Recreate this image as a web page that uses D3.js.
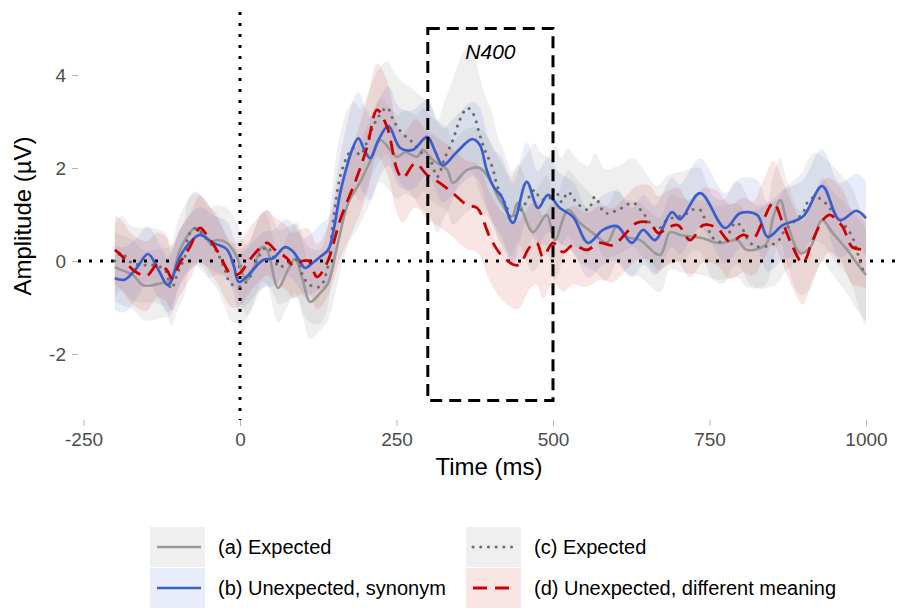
<!DOCTYPE html>
<html lang="en">
<head>
    <meta charset="UTF-8">
    <title>ERP amplitude</title>
    <script src="https://d3js.org/d3.v7.min.js"></script>
    <style>
        body { margin: 0; background: #fff; }
        svg { font-family: "Liberation Sans", Arial, sans-serif; }
        .tick text { fill: #4d4d4d; font-size: 19px; }
        .tick line { stroke: #b3b3b3; }
    </style>
</head>
<body>
<div id="chart"></div>
<script>
    // (a) Expected, solid grey
    const aTime = [-200,-190,-171,-155,-139,-123,-112,-96,-72,-59, -48,-37,-21,-5,5,11,21,35,43,61,
                   75,88,100,112,128,141,155,173,192,211, 224,240,251,264,283,292,308,331,340,363,
                   383,399,415,434,444,468,490,503,524,543, 564,586,602,618,639,671,687,703,724,740,
                   756,772,794,809,831,842,852,863,874,895, 911,930,947,970,985,1000];
    const aAmp = [-0.13,-0.19,-0.3,-0.52,-0.52,-0.47,-0.45,0.24,0.71,0.6, 0.39,0.45,0.39,0.09,-0.3,-0.41,-0.19,0.3,0.24,-0.58,
                  -0.24,0.05,-0.4,-0.88,-0.69,-0.47,0.3,1.25,1.7,2.24, 2.6,2.39,2.24,2.34,2.24,2.39,2.17,1.96,1.68,1.96,
                  2.0,1.74,1.31,0.95,1.25,0.62,0.99,0.45,1.1,0.82, 0.6,0.39,0.75,0.52,0.45,0.13,0.62,0.56,0.52,0.49,
                  0.41,0.39,0.45,0.24,0.28,0.39,0.95,1.31,0.82,0.17, 0.3,0.88,0.6,0.24,-0.04,-0.3];
    const aSe = [0.75,0.75,0.75,0.75,0.75,0.75,0.75,0.75,0.75,0.75, 0.75,0.75,0.75,0.75,0.75,0.75,0.75,0.75,0.75,0.75,
                 0.75,0.75,0.8,0.8,0.8,0.8,0.85,0.9,0.9,0.9, 0.9,0.9,0.9,0.9,0.9,0.9,0.9,0.9,0.9,0.9,
                 0.85,0.85,0.85,0.85,0.85,0.85,0.85,0.85,0.85,0.85, 0.8,0.8,0.8,0.8,0.8,0.8,0.8,0.8,0.8,0.8,
                 0.8,0.8,0.8,0.8,0.85,0.85,0.9,0.9,0.9,0.9, 0.9,0.9,0.9,0.95,1.0,1.0];

    // (b) Unexpected, synonym, solid blue
    const bTime = [-200,-184,-165,-147,-130,-115,-96,-80,-64,-43, -21,-10,-2,10,20,37,53,72,85,96,
                   104,115,128,141,150,160,170,179,189,200, 208,221,237,256,276,299,312,324,346,371,
                   383,394,405,418,436,458,476,492,511,532, 556,580,602,626,644,663,690,703,735,775,
                   799,826,843,867,899,930,958,985,1000];
    const bAmp = [-0.37,-0.4,-0.15,0.15,-0.2,-0.52,0.09,0.4,0.56,0.39, 0.25,-0.1,-0.45,-0.35,-0.2,0.02,0.06,0.3,0.2,-0.02,
                  -0.15,-0.05,0.09,0.24,0.7,1.46,2.0,2.39,2.64,2.35, 2.21,2.6,2.9,2.43,2.39,2.67,2.35,2.06,2.34,2.62,
                  2.5,1.96,1.6,1.38,0.82,1.7,1.14,1.42,1.14,0.95, 0.39,0.67,0.75,0.39,0.67,0.45,1.05,0.9,1.46,0.71,
                  1.03,0.99,0.52,0.77,0.95,1.61,0.88,1.08,0.92];
    const bSe = [0.7,0.7,0.65,0.6,0.6,0.6,0.6,0.6,0.6,0.6, 0.6,0.6,0.6,0.6,0.6,0.6,0.6,0.6,0.6,0.6,
                 0.65,0.65,0.7,0.7,0.75,0.8,0.9,1.0,1.0,0.95, 0.9,0.85,0.85,0.85,0.85,0.8,0.8,0.8,0.8,0.8,
                 0.8,0.8,0.8,0.85,0.85,0.85,0.8,0.8,0.75,0.75, 0.75,0.75,0.75,0.75,0.75,0.75,0.75,0.75,0.75,0.75,
                 0.75,0.75,0.75,0.75,0.8,0.8,0.8,0.8,0.8];

    // (c) Expected, dotted grey
    const cTime = [-200,-190,-173,-155,-139,-120,-110,-98,-88,-83, -72,-48,-37,-24,-16,0,16,27,43,56,
                   61,72,91,101,112,128,139,149,160,171, 181,192,208,221,235,245,259,275,291,304,
                   315,327,340,351,363,372,383,391,403,412, 426,434,452,471,479,492,503,514,524,538,
                   556,567,583,604,628,644,666,682,698,710, 722,735,745,756,772,791,799,815,831,858,
                   871,899,906,919,935,947,963,978,985,994, 1000];
    const cAmp = [0.0,0.17,-0.04,-0.09,-0.09,-0.19,-0.6,-0.2,0.09,0.52, 0.7,0.39,0.2,-0.19,-0.47,-0.55,-0.34,0.02,0.3,0.02,
                  -0.13,-0.09,0.02,-0.34,-0.52,-0.55,-0.19,0.88,1.81,2.24, 2.43,2.28,2.75,3.1,3.3,3.03,2.75,2.56,2.32,2.17,
                  1.81,2.21,2.6,3.03,3.29,3.18,2.71,2.39,2.02,1.57, 1.16,0.92,1.16,1.53,1.35,1.31,1.53,1.27,1.48,1.25,
                  1.1,1.38,1.03,1.1,1.25,1.03,0.67,0.88,0.95,0.99, 1.1,1.1,0.8,0.49,0.41,0.82,0.77,0.39,0.3,0.41,
                  0.67,1.03,1.25,1.38,1.25,1.05,0.82,0.52,0.24,-0.15, -0.3];
    const cSe = [0.8,0.8,0.8,0.8,0.8,0.8,0.8,0.8,0.8,0.8, 0.8,0.8,0.8,0.8,0.8,0.8,0.8,0.8,0.8,0.8,
                 0.8,0.8,0.8,0.8,0.8,0.8,0.85,0.9,0.95,1.0, 1.0,1.0,1.0,1.0,1.0,1.05,1.1,1.15,1.2,1.2,
                 1.2,1.25,1.3,1.3,1.3,1.3,1.25,1.2,1.15,1.1, 1.05,1.0,1.0,1.0,1.0,0.95,0.95,0.95,0.95,0.95,
                 0.95,0.95,0.95,0.95,0.95,0.95,0.95,0.95,0.95,0.95, 0.9,0.9,0.9,0.9,0.9,0.9,0.9,0.9,0.9,0.9,
                 0.9,0.9,0.9,0.95,0.95,1.0,1.0,1.05,1.1,1.1, 1.1];

    // (d) Unexpected, different meaning, dashed red
    const dTime = [-200,-190,-171,-149,-133,-117,-109,-96,-80,-64, -53,-35,-13,0,13,29,43,56,75,85,
                   100,110,123,139,160,187,203,219,235,251, 260,280,299,319,340,363,379,399,420,444,
                   463,474,484,500,516,532,554,575,596,618, 634,655,668,687,700,719,740,762,783,804,
                   820,834,852,867,883,899,915,931,942,953, 963,978,995,1000];
    const dAmp = [0.24,0.13,-0.19,-0.32,-0.09,-0.19,-0.37,-0.04,0.3,0.71, 0.56,0.19,-0.3,-0.26,-0.02,0.24,0.39,0.24,0.06,-0.1,
                  0.0,0.0,-0.34,-0.04,0.88,1.81,2.45,3.25,2.88,1.96, 1.78,2.1,1.85,1.68,1.46,1.2,1.14,0.52,0.09,-0.09,
                  0.3,0.39,0.09,0.39,0.19,0.34,0.24,0.39,0.34,0.62, 0.82,0.82,0.6,0.74,0.77,0.45,0.77,0.71,0.41,0.56,
                  0.49,0.82,1.25,0.82,0.3,-0.04,0.45,0.88,0.99,0.88, 0.73,0.3,0.24,0.2];
    const dSe = [0.75,0.75,0.75,0.75,0.7,0.7,0.7,0.7,0.7,0.7, 0.7,0.7,0.7,0.7,0.7,0.7,0.7,0.7,0.7,0.7,
                 0.7,0.7,0.7,0.75,0.85,0.95,1.0,1.0,1.0,0.95, 0.95,0.95,0.95,0.95,0.95,0.95,0.95,0.95,0.95,0.95,
                 0.9,0.9,0.9,0.85,0.85,0.85,0.8,0.8,0.8,0.8, 0.8,0.8,0.8,0.8,0.8,0.8,0.8,0.8,0.8,0.8,
                 0.8,0.85,0.9,0.9,0.9,0.9,0.85,0.85,0.8,0.8, 0.8,0.8,0.8,0.8];

    const xTicks = [-250, 0, 250, 500, 750, 1000];
    const yTicks = [-2, 0, 2, 4];
    const windowN400 = [300, 500];
    const windowAmp = [-3, 5];
    const legendLabels = ["(a) Expected", "(b) Unexpected, synonym", "(c) Expected", "(d) Unexpected, different meaning"];

    const width = 900, height = 608;
    const x = d3.scaleLinear().domain([-250, 1000]).range([83.5, 866]);
    const y = d3.scaleLinear().domain([-2, 4]).range([354, 75]);
    const plotLeft = 78, plotRight = 900, plotTop = 12, plotBottom = 420;

    const series = [
        {time: aTime, amp: aAmp, se: aSe, color: "#999999", fill: "#a0a0a0", fo: 0.17, dash: null, w: 2.6},
        {time: cTime, amp: cAmp, se: cSe, color: "#6e6e6e", fill: "#a0a0a0", fo: 0.17, dash: "0.1,7.6", w: 3},
        {time: bTime, amp: bAmp, se: bSe, color: "#3a5fcd", fill: "#3a5fcd", fo: 0.11, dash: null, w: 2.7},
        {time: dTime, amp: dAmp, se: dSe, color: "#cd0000", fill: "#cd0000", fo: 0.1, dash: "14,8", w: 2.8}
    ];

    const svg = d3.select("#chart").append("svg")
        .attr("width", width)
        .attr("height", height);

    const rows = s => s.time.map((t, i) => ({t: t, v: s.amp[i], se: s.se[i]}));

    const area = d3.area()
        .x(d => x(d.t))
        .y0(d => y(d.v - d.se))
        .y1(d => y(d.v + d.se))
        .curve(d3.curveCatmullRom);

    const line = d3.line()
        .x(d => x(d.t))
        .y(d => y(d.v))
        .curve(d3.curveCatmullRom);

    // ribbons
    series.forEach(s => {
        svg.append("path")
            .attr("d", area(rows(s)))
            .attr("fill", s.fill)
            .attr("fill-opacity", s.fo);
    });

    // reference lines
    svg.append("line")
        .attr("x1", plotLeft).attr("x2", plotRight)
        .attr("y1", y(0)).attr("y2", y(0))
        .attr("stroke", "#000").attr("stroke-width", 3)
        .attr("stroke-dasharray", "3,8");
    svg.append("line")
        .attr("x1", x(0)).attr("x2", x(0))
        .attr("y1", plotTop).attr("y2", plotBottom)
        .attr("stroke", "#000").attr("stroke-width", 3)
        .attr("stroke-dasharray", "3,8");

    // lines
    series.forEach(s => {
        const p = svg.append("path")
            .attr("d", line(rows(s)))
            .attr("fill", "none")
            .attr("stroke", s.color)
            .attr("stroke-width", s.w);
        if (s.dash) p.attr("stroke-dasharray", s.dash);
        if (s.dash && s.dash.startsWith("0.1")) p.attr("stroke-linecap", "round");
    });

    // N400 window
    svg.append("rect")
        .attr("x", x(windowN400[0]))
        .attr("y", y(windowAmp[1]))
        .attr("width", x(windowN400[1]) - x(windowN400[0]))
        .attr("height", y(windowAmp[0]) - y(windowAmp[1]))
        .attr("fill", "none")
        .attr("stroke", "#000")
        .attr("stroke-width", 3)
        .attr("stroke-dasharray", "12,7");
    svg.append("text")
        .attr("x", x(400)).attr("y", 59)
        .attr("text-anchor", "middle")
        .attr("font-style", "italic")
        .attr("font-size", 21)
        .text("N400");

    // axes (plain hyphen minus, as in the original)
    const fmt = d => String(d);
    const yAxis = svg.append("g")
        .attr("transform", `translate(${plotLeft},0)`)
        .call(d3.axisLeft(y).tickValues(yTicks).tickSize(6).tickPadding(6).tickFormat(fmt));
    yAxis.select(".domain").remove();

    const xAxis = svg.append("g")
        .attr("transform", `translate(0,${plotBottom})`)
        .call(d3.axisBottom(x).tickValues(xTicks).tickSize(6).tickPadding(7).tickFormat(fmt));
    xAxis.select(".domain").remove();

    svg.append("text")
        .attr("x", (plotLeft + plotRight) / 2).attr("y", 475)
        .attr("text-anchor", "middle")
        .attr("font-size", 24)
        .text("Time (ms)");

    svg.append("text")
        .attr("transform", "translate(31,216) rotate(-90)")
        .attr("text-anchor", "middle")
        .attr("font-size", 24)
        .text("Amplitude (\u00b5V)");

    // legend: a, b in the left column, c, d in the right one
    const legendPos = [[150, 527], [150, 568], [466, 527], [466, 568]];
    const legendSeries = [series[0], series[2], series[1], series[3]];
    const legend = svg.append("g");
    legendSeries.forEach((s, i) => {
        const [lx, ly] = legendPos[i];
        const g = legend.append("g").attr("transform", `translate(${lx},${ly})`);
        g.append("rect")
            .attr("width", 55).attr("height", 40)
            .attr("fill", s.fill).attr("fill-opacity", s.fo);
        const l = g.append("line")
            .attr("x1", 7).attr("x2", 51)
            .attr("y1", 20).attr("y2", 20)
            .attr("stroke", s.color)
            .attr("stroke-width", s.w);
        if (s.dash) l.attr("stroke-dasharray", s.dash);
        if (s.dash && s.dash.startsWith("0.1")) l.attr("stroke-linecap", "round");
        g.append("text")
            .attr("x", 68).attr("y", 27)
            .attr("font-size", 20)
            .text(legendLabels[i]);
    });
</script>
</body>
</html>
